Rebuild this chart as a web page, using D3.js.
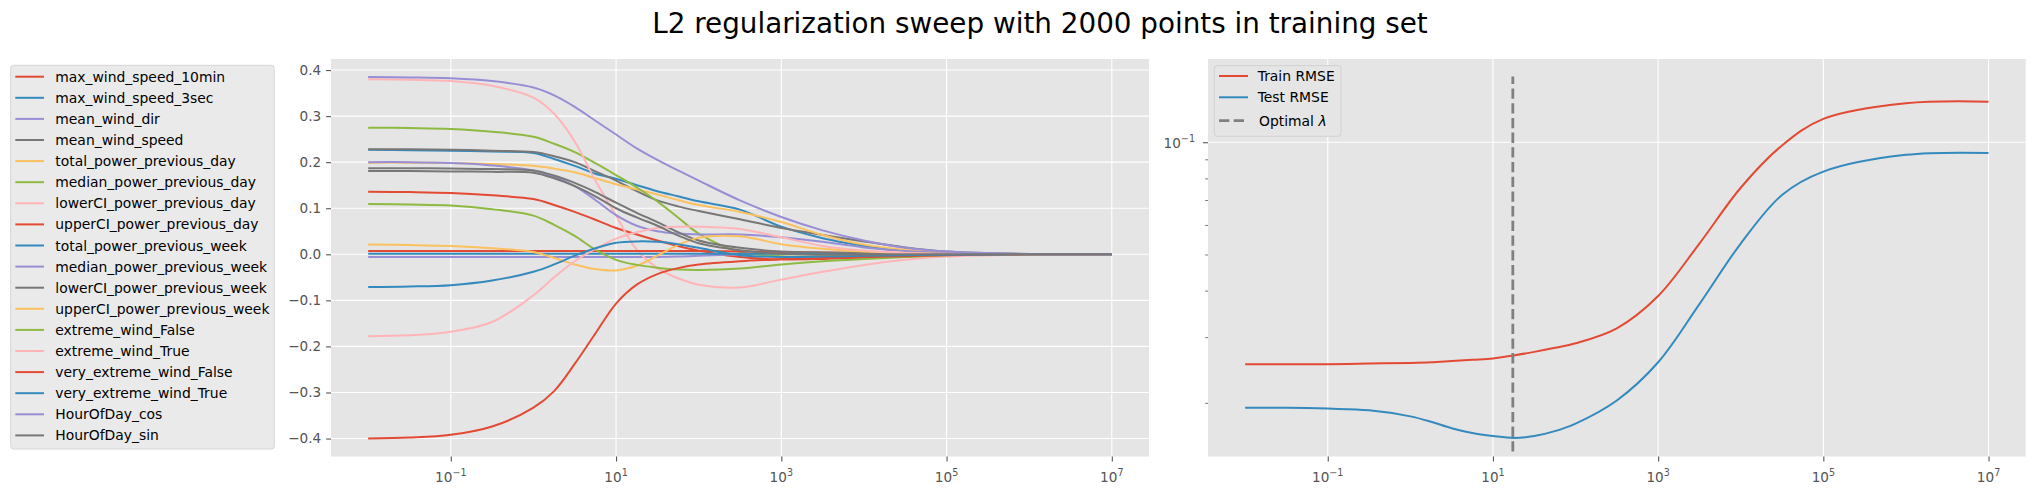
<!DOCTYPE html>
<html>
<head>
<meta charset="utf-8">
<script src="https://cdn.jsdelivr.net/npm/d3@7"></script>
<style>
body { margin: 0; background: #fff; }
svg text { font-family: "DejaVu Sans", sans-serif; }
</style>
</head>
<body>
<svg id="chart" width="2035" height="495"></svg>
<script>
// regularization strengths used in the sweep
var lambdas = [1e-2, 3.16e-2, 1e-1, 3.16e-1, 1, 1.78, 3.16, 5.62, 10, 17.8, 31.6, 56.2,
               1e2, 3.16e2, 1e3, 3.16e3, 1e4, 3.16e4, 1e5, 1e6, 1e7];

var featureNames = ["max_wind_speed_10min", "max_wind_speed_3sec", "mean_wind_dir", "mean_wind_speed",
    "total_power_previous_day", "median_power_previous_day", "lowerCI_power_previous_day",
    "upperCI_power_previous_day", "total_power_previous_week", "median_power_previous_week",
    "lowerCI_power_previous_week", "upperCI_power_previous_week", "extreme_wind_False",
    "extreme_wind_True", "very_extreme_wind_False", "very_extreme_wind_True",
    "HourOfDay_cos", "HourOfDay_sin"];

var styleColors = ["#E24A33", "#348ABD", "#988ED5", "#777777", "#FBC15E", "#8EBA42", "#FFB5B8"];

// coefficient value of every feature at each lambda
var coefPaths = [
    [.136,.135,.133,.128,.120,.107,.092,.075,.057,.043,.030,.018,.008,-.006,-.011,-.010,-.007,-.004,-.002,0,0],
    [.227,.226,.225,.223,.220,.207,.192,.175,.164,.150,.137,.126,.115,.097,.060,.035,.018,.008,.003,0,0],
    [-.006,-.006,-.006,-.006,-.006,-.006,-.006,-.006,-.006,-.006,-.006,-.005,-.003,0,.002,.002,.001,.001,0,0,0],
    [.228,.228,.227,.225,.222,.213,.200,.180,.160,.137,.117,.104,.094,.076,.057,.042,.028,.015,.006,.0005,0],
    [.199,.199,.198,.196,.192,.186,.178,.165,.152,.141,.130,.118,.107,.092,.070,.042,.021,.010,.004,0,0],
    [.275,.274,.272,.266,.255,.240,.222,.198,.172,.145,.115,.080,.045,.005,-.004,-.005,-.004,-.002,-.001,0,0],
    [.380,.379,.376,.366,.340,.305,.245,.160,.084,.010,-.030,-.052,-.066,-.072,-.055,-.038,-.023,-.012,-.005,-.0005,0],
    [.007,.007,.007,.007,.007,.007,.007,.007,.007,.007,.007,.007,.007,.006,.005,.004,.003,.002,.001,0,0],
    [.001,.001,.001,.001,.001,.001,.001,.001,.001,.001,.001,.001,.001,.001,.001,.001,.001,.0005,0,0,0],
    [.200,.200,.198,.193,.182,.168,.148,.118,.085,.062,.050,.045,.043,.043,.037,.027,.015,.007,.003,0,0],
    [.187,.187,.186,.185,.182,.171,.155,.135,.112,.090,.070,.048,.030,.014,.006,.004,.003,.002,.001,0,0],
    [.021,.020,.018,.013,.005,-.008,-.022,-.032,-.035,-.025,-.003,.020,.036,.039,.022,.012,.006,.003,.001,0,0],
    [.109,.108,.106,.098,.084,.064,.040,.010,-.012,-.023,-.029,-.033,-.034,-.031,-.022,-.015,-.010,-.006,-.002,0,0],
    [-.178,-.176,-.168,-.147,-.089,-.050,-.015,.012,.034,.048,.057,.060,.060,.055,.037,.018,.008,.003,.001,0,0],
    [-.400,-.398,-.392,-.374,-.333,-.297,-.238,-.172,-.107,-.066,-.043,-.030,-.022,-.015,-.011,-.008,-.006,-.004,-.002,0,0],
    [-.071,-.070,-.067,-.057,-.038,-.022,-.003,.013,.025,.028,.027,.022,.014,-.002,-.006,-.005,-.003,-.002,-.001,0,0],
    [.385,.384,.382,.376,.362,.345,.320,.290,.260,.230,.205,.182,.160,.117,.081,.052,.030,.014,.006,.0005,0],
    [.181,.181,.180,.179,.177,.165,.148,.126,.100,.080,.062,.041,.024,.009,.001,-.001,-.001,0,0,0,0]
];

var trainRmse = [.0254,.0254,.0254,.0255,.0256,.0257,.0259,.0261,.0263,.0268,.0274,.0281,.0289,.0317,.0387,.0535,.0755,.0980,.1155,.1272,.1285];
var testRmse  = [.0194,.0194,.0193,.0191,.0184,.0178,.0171,.0166,.0163,.0161,.0163,.0168,.0176,.0203,.0257,.0368,.0535,.0722,.0834,.0925,.0936];

var optimalLambda = 17.4;
var optimalSpan = [0.0148, 0.15];

var xTickExps = [-1, 1, 3, 5, 7];
var coefTicks = [-0.4, -0.3, -0.2, -0.1, 0.0, 0.1, 0.2, 0.3, 0.4];
var rmseMinorTicks = [0.02, 0.03, 0.04, 0.05, 0.06, 0.07, 0.08, 0.09];

var svg = d3.select("#chart");
var tickColor = "#555555";
var tickFont = "13.6px";

var plotTop = 59, plotBottom = 456.5;
var coefBox = { left: 331, right: 1149 };
var rmseBox = { left: 1208, right: 2025.7 };
var xDomain = [Math.pow(10, -2.45), Math.pow(10, 7.45)];

// title
svg.append("text")
    .attr("x", 1040).attr("y", 32.5)
    .attr("text-anchor", "middle")
    .style("font-size", "27.8px")
    .attr("fill", "#000")
    .text("L2 regularization sweep with 2000 points in training set");

function drawPanel(box) {
    var g = svg.append("g");
    g.append("rect")
        .attr("x", box.left).attr("y", plotTop)
        .attr("width", box.right - box.left).attr("height", plotBottom - plotTop)
        .attr("fill", "#E5E5E5");
    return g;
}

function powerLabel(sel, exp) {
    sel.append("tspan").text("10");
    sel.append("tspan").attr("dy", -6).style("font-size", "9.6px")
        .text(exp < 0 ? "\u2212" + Math.abs(exp) : String(exp));
}

function drawXAxis(g, x) {
    xTickExps.forEach(function (e) {
        var px = x(Math.pow(10, e));
        g.append("line").attr("x1", px).attr("x2", px).attr("y1", plotTop).attr("y2", plotBottom)
            .attr("stroke", "#fff").attr("stroke-width", 1.1);
    });
    var axis = d3.axisBottom(x)
        .tickValues(xTickExps.map(function (e) { return Math.pow(10, e); }))
        .tickSize(4.9).tickPadding(4.9).tickFormat(function () { return ""; });
    var ax = g.append("g").attr("transform", "translate(0," + plotBottom + ")").call(axis);
    ax.select(".domain").remove();
    ax.selectAll(".tick line").attr("stroke", tickColor).attr("stroke-width", 1.1);
    xTickExps.forEach(function (e) {
        var t = g.append("text")
            .attr("x", x(Math.pow(10, e))).attr("y", 481.5)
            .attr("text-anchor", "middle")
            .style("font-size", tickFont).attr("fill", tickColor);
        powerLabel(t, e);
    });
}

// ---------- coefficient paths ----------
var xCoef = d3.scaleLog().domain(xDomain).range([coefBox.left, coefBox.right]);
var yCoef = d3.scaleLinear().domain([-0.439, 0.424]).range([plotBottom, plotTop]);
var gCoef = drawPanel(coefBox);

coefTicks.forEach(function (v) {
    gCoef.append("line").attr("x1", coefBox.left).attr("x2", coefBox.right)
        .attr("y1", yCoef(v)).attr("y2", yCoef(v))
        .attr("stroke", "#fff").attr("stroke-width", 1.1);
});
drawXAxis(gCoef, xCoef);

var yAxisCoef = d3.axisLeft(yCoef).tickValues(coefTicks).tickSize(4.9).tickPadding(4.9)
    .tickFormat(function (d) { return d3.format(".1f")(d).replace("-", "\u2212"); });
var yAx = gCoef.append("g").attr("transform", "translate(" + coefBox.left + ",0)").call(yAxisCoef);
yAx.select(".domain").remove();
yAx.selectAll(".tick line").attr("stroke", tickColor).attr("stroke-width", 1.1);
yAx.selectAll(".tick text").attr("fill", tickColor).style("font-size", tickFont)
    .style("font-family", "DejaVu Sans");

var coefLine = d3.line()
    .x(function (d, i) { return xCoef(lambdas[i]); })
    .y(function (d) { return yCoef(d); })
    .curve(d3.curveCatmullRom.alpha(0.5));

coefPaths.forEach(function (vals, i) {
    gCoef.append("path")
        .attr("d", coefLine(vals))
        .attr("fill", "none")
        .attr("stroke", styleColors[i % styleColors.length])
        .attr("stroke-width", 2);
});

// legend for the features, to the left of the panel
var legend = svg.append("g");
legend.append("rect")
    .attr("x", 10.7).attr("y", 65.3).attr("width", 263.6).attr("height", 383.7)
    .attr("rx", 3).attr("fill", "#EAEAEA").attr("stroke", "#D6D6D6").attr("stroke-width", 1);
featureNames.forEach(function (name, i) {
    var yRow = 76.7 + i * 21.1;
    legend.append("line").attr("x1", 15.3).attr("x2", 44).attr("y1", yRow).attr("y2", yRow)
        .attr("stroke", styleColors[i % styleColors.length]).attr("stroke-width", 2);
    legend.append("text").attr("x", 55.3).attr("y", yRow + 5)
        .style("font-size", "13.9px").attr("fill", "#000").text(name);
});

// ---------- RMSE ----------
var xRmse = d3.scaleLog().domain(xDomain).range([rmseBox.left, rmseBox.right]);
var yRmse = d3.scaleLog().domain([0.01436, 0.1672]).range([plotBottom, plotTop]);
var gRmse = drawPanel(rmseBox);

gRmse.append("line").attr("x1", rmseBox.left).attr("x2", rmseBox.right)
    .attr("y1", yRmse(0.1)).attr("y2", yRmse(0.1))
    .attr("stroke", "#fff").attr("stroke-width", 1.1);
drawXAxis(gRmse, xRmse);

var yAxisRmse = d3.axisLeft(yRmse).tickValues([0.1]).tickSize(4.9).tickFormat(function () { return ""; });
var yAxR = gRmse.append("g").attr("transform", "translate(" + rmseBox.left + ",0)").call(yAxisRmse);
yAxR.select(".domain").remove();
yAxR.selectAll(".tick line").attr("stroke", tickColor).attr("stroke-width", 1.1);
var yMinor = d3.axisLeft(yRmse).tickValues(rmseMinorTicks).tickSize(2.8).tickFormat(function () { return ""; });
var yAxM = gRmse.append("g").attr("transform", "translate(" + rmseBox.left + ",0)").call(yMinor);
yAxM.select(".domain").remove();
yAxM.selectAll(".tick line").attr("stroke", tickColor).attr("stroke-width", 0.8);
var yLab = gRmse.append("text")
    .attr("x", 1195).attr("y", yRmse(0.1) + 5.5)
    .attr("text-anchor", "end")
    .style("font-size", tickFont).attr("fill", tickColor);
powerLabel(yLab, -1);

var rmseLine = d3.line()
    .x(function (d, i) { return xRmse(lambdas[i]); })
    .y(function (d) { return yRmse(d); })
    .curve(d3.curveCatmullRom.alpha(0.5));

gRmse.append("path").attr("d", rmseLine(trainRmse))
    .attr("fill", "none").attr("stroke", "#E24A33").attr("stroke-width", 2);
gRmse.append("path").attr("d", rmseLine(testRmse))
    .attr("fill", "none").attr("stroke", "#348ABD").attr("stroke-width", 2);
gRmse.append("line")
    .attr("x1", xRmse(optimalLambda)).attr("x2", xRmse(optimalLambda))
    .attr("y1", yRmse(optimalSpan[0])).attr("y2", yRmse(optimalSpan[1]))
    .attr("stroke", "#808080").attr("stroke-width", 2.8).attr("stroke-dasharray", "10.3,4.4");

// RMSE legend
var legR = svg.append("g");
legR.append("rect")
    .attr("x", 1214.3).attr("y", 65.7).attr("width", 126.7).attr("height", 70.6)
    .attr("rx", 3).attr("fill", "#E5E5E5").attr("stroke", "#D1D1D1").attr("stroke-width", 1);
var rmseLegend = [
    { label: "Train RMSE", color: "#E24A33", dash: null, y: 76 },
    { label: "Test RMSE", color: "#348ABD", dash: null, y: 97.3 },
    { label: "Optimal ", color: "#808080", dash: "10.3,4.4", y: 120.7 }
];
rmseLegend.forEach(function (d, i) {
    legR.append("line").attr("x1", 1219).attr("x2", 1248).attr("y1", d.y).attr("y2", d.y)
        .attr("stroke", d.color).attr("stroke-width", d.dash ? 2.8 : 2)
        .attr("stroke-dasharray", d.dash);
    var t = legR.append("text").attr("x", i == 2 ? 1259 : 1257.7).attr("y", d.y + 5)
        .style("font-size", "13.9px").attr("fill", "#000").text(d.label);
    if (i == 2) t.append("tspan").style("font-style", "italic").text("\u03bb");
});
</script>
</body>
</html>
